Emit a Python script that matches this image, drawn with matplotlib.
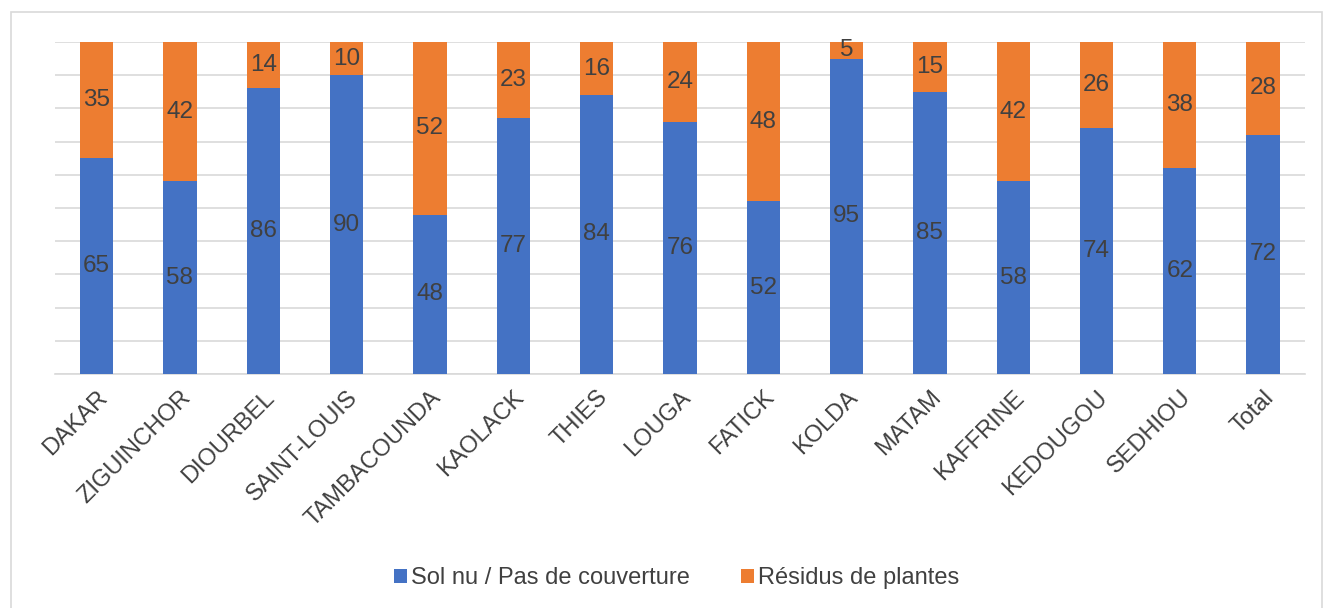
import numpy as np
import matplotlib.pyplot as plt
from matplotlib.patches import Rectangle

plt.rcParams['font.family'] = ['Liberation Sans', 'DejaVu Sans']

regions = ['DAKAR', 'ZIGUINCHOR', 'DIOURBEL', 'SAINT-LOUIS', 'TAMBACOUNDA', 'KAOLACK',
           'THIES', 'LOUGA', 'FATICK', 'KOLDA', 'MATAM', 'KAFFRINE', 'KEDOUGOU',
           'SEDHIOU', 'Total']
sol_nu = [65, 58, 86, 90, 48, 77, 84, 76, 52, 95, 85, 58, 74, 62, 72]
residus = [35, 42, 14, 10, 52, 23, 16, 24, 48, 5, 15, 42, 26, 38, 28]

blue = '#4472c4'
orange = '#ed7d31'
grid = '#d9d9d9'
txt = '#404040'

fig = plt.figure(figsize=(13.24, 6.08), dpi=100)
ax = fig.add_axes([0.0415, 0.385, 0.944, 0.546])

x = np.arange(len(regions))
w = 0.4
b1 = ax.bar(x, sol_nu, w, color=blue, label='Sol nu / Pas de couverture', zorder=3)
b2 = ax.bar(x, residus, w, bottom=sol_nu, color=orange, label='Résidus de plantes', zorder=3)

ax.bar_label(b1, label_type='center', fontsize=17.5, color=txt)
ax.bar_label(b2, label_type='center', fontsize=17.5, color=txt)

ax.set_xlim(-0.5, len(regions) - 0.5)
ax.set_ylim(0, 100)
ax.set_yticks(np.arange(0, 101, 10))
ax.set_yticklabels([])
ax.tick_params(axis='y', length=0)
ax.tick_params(axis='x', length=0, pad=9)
ax.grid(axis='y', color=grid, linewidth=1.2, zorder=0)
for s in ['top', 'right', 'left']:
    ax.spines[s].set_visible(False)
ax.spines['bottom'].set_color(grid)
ax.spines['bottom'].set_linewidth(1.2)

ax.set_xticks(x)
ax.set_xticklabels(regions, rotation=45, ha='right', rotation_mode='anchor',
                   fontsize=17, color=txt)

fig.legend(loc='center', bbox_to_anchor=(0.511, 0.049), ncol=2, frameon=False,
           fontsize=17, handlelength=0.55, handleheight=0.55, handletextpad=0.15,
           columnspacing=2.2, labelcolor=txt)

# outer frame
fig.patches.append(Rectangle((11 / 1324, -0.01), 1311 / 1324, 1 - 12 / 608 + 0.01,
                             transform=fig.transFigure, fill=False,
                             edgecolor=grid, linewidth=1.2))

fig.savefig('out.png', dpi=100)
